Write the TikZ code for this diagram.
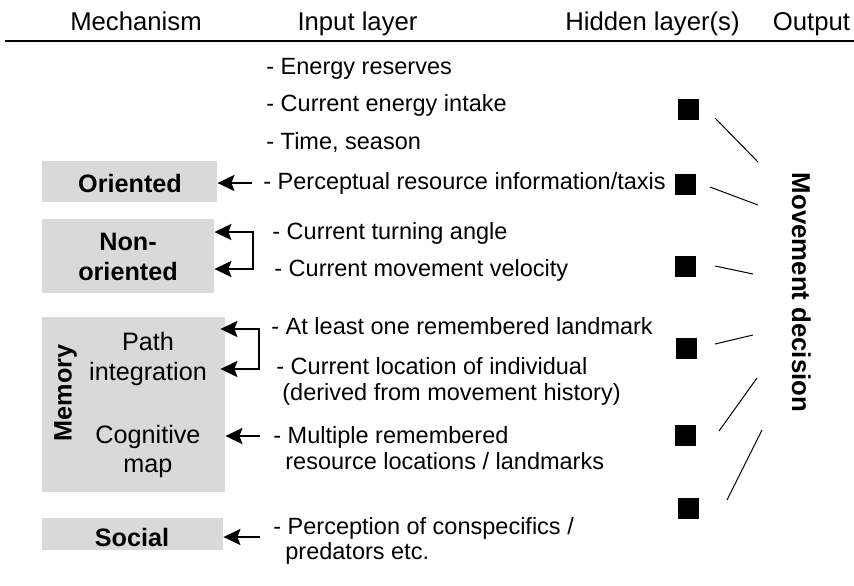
\documentclass[tikz,border=0pt]{standalone}
\usepackage{fontspec}
\setmainfont{Liberation Sans}
\usetikzlibrary{arrows.meta}
\definecolor{mgray}{HTML}{D9D9D9}
\begin{document}
\begin{tikzpicture}[x=0.5pt,y=-0.5pt,
  inp/.style={inner sep=0pt, anchor=base west, font=\fontsize{11.75}{14}\selectfont},
  hdr/.style={inner sep=0pt, anchor=base, font=\fontsize{12.85}{15}\selectfont},
  lbl/.style={inner sep=0pt, anchor=base, font=\fontsize{12.6}{15}\selectfont},
  blbl/.style={inner sep=0pt, anchor=base, font=\fontsize{12.6}{15}\selectfont\bfseries},
  mech/.style={fill=mgray, inner sep=0pt, draw=none},
  tip/.tip={Stealth[length=8.5pt,width=8pt,inset=1.5pt]},
  arr/.style={-tip, line width=1.2pt},
  barr/.style={tip-tip, line width=1.2pt},
  hid/.style={fill=black, minimum size=10.5pt, inner sep=0pt},
  link/.style={line width=0.5pt},
]
\useasboundingbox (0,0) rectangle (854,585);

% headers
\node[hdr] (hmech) at (136,30) {Mechanism};
\node[hdr] (hinp) at (357.5,30) {Input layer};
\node[hdr] (hhid) at (652.5,30) {Hidden layer(s)};
\node[hdr] (hout) at (811.5,30) {Output};
\coordinate (rl) at (5,41);
\coordinate (rr) at (854,41);
\draw[line width=0.75pt] (rl) -- (rr);

% mechanism boxes
\node[mech, minimum width=87.5pt, minimum height=20.5pt] (ori) at (129.5,181.5) {};
\node[mech, minimum width=86pt, minimum height=37pt] (non) at (128,256) {};
\node[mech, minimum width=91.5pt, minimum height=87.5pt] (mem) at (133.5,404.5) {};
\node[mech, minimum width=90.5pt, minimum height=16pt] (soc) at (132.5,534) {};

\node[blbl] (tori) at (130,192) {Oriented};
\node[blbl] (tnon1) at (128,250) {Non-};
\node[blbl] (tnon2) at (128,280) {oriented};
\node[blbl, rotate=90] (tmem) at (71.5,393) {Memory};
\node[lbl] (tpath1) at (148,350) {Path};
\node[lbl] (tpath2) at (148,380) {integration};
\node[lbl] (tcog1) at (148,443) {Cognitive};
\node[lbl] (tcog2) at (148,472) {map};
\node[blbl] (tsoc) at (132,546) {Social};

% input layer
\node[inp] (i1) at (266,74) {- Energy reserves};
\node[inp] (i2) at (266,111.5) {- Current energy intake};
\node[inp] (i3) at (266,149) {- Time, season};
\node[inp] (i4) at (263,189) {- Perceptual resource information/taxis};
\node[inp] (i5) at (272,239.5) {- Current turning angle};
\node[inp] (i6) at (274,276.5) {- Current movement velocity};
\node[inp] (i7) at (271,334.5) {- At least one remembered landmark};
\node[inp] (i8) at (276,374) {- Current location of individual};
\node[inp] (i8b) at (282,400) {(derived from movement history)};
\node[inp] (i9) at (273,443.5) {- Multiple remembered};
\node[inp] (i9b) at (285,469) {resource locations / landmarks};
\node[inp] (i10) at (273,534) {- Perception of conspecifics /};
\node[inp] (i10b) at (285,559) {predators etc.};

% arrows
\coordinate (a1) at (252,183);
\draw[arr] (a1) -- (ori.east |- a1);
\coordinate (b1) at (253,232);
\coordinate (b2) at (253,269);
\draw[barr] (non.east |- b1) -- (b1) -- (b2) -- (non.east |- b2);
\coordinate (c1) at (259,329);
\coordinate (c2) at (259,369);
\draw[barr, shorten <=-2.5pt, shorten >=-2.5pt] (mem.east |- c1) -- (c1) -- (c2) -- (mem.east |- c2);
\coordinate (d1) at (260,436);
\draw[arr] (d1) -- (mem.east |- d1);
\coordinate (e1) at (260,537);
\draw[arr] (e1) -- (soc.east |- e1);

% hidden layer
\node[hid] (h1) at (688,109) {};
\node[hid] (h2) at (685,184) {};
\node[hid] (h3) at (685,266) {};
\node[hid] (h4) at (686,348) {};
\node[hid] (h5) at (685,435) {};
\node[hid] (h6) at (688,508) {};

% output
\node[inner sep=0pt, anchor=base, rotate=-90, font=\fontsize{12.9}{15}\selectfont\bfseries] (out) at (792,292.5) {Movement decision};

\coordinate (l1a) at (715,118); \coordinate (l1b) at (758,162);
\coordinate (l2a) at (710,187); \coordinate (l2b) at (758,205);
\coordinate (l3a) at (715,266); \coordinate (l3b) at (753,274);
\coordinate (l4a) at (715,344); \coordinate (l4b) at (753,335);
\coordinate (l5a) at (719,431); \coordinate (l5b) at (757,378);
\coordinate (l6a) at (727,500); \coordinate (l6b) at (762,430);
\draw[link] (l1a) -- (l1b);
\draw[link] (l2a) -- (l2b);
\draw[link] (l3a) -- (l3b);
\draw[link] (l4a) -- (l4b);
\draw[link] (l5a) -- (l5b);
\draw[link] (l6a) -- (l6b);
\end{tikzpicture}
\end{document}
